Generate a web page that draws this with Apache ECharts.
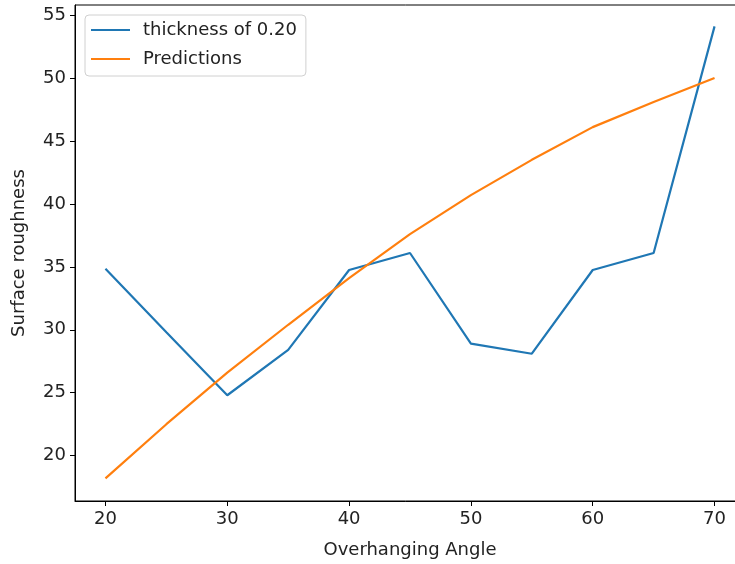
<!DOCTYPE html>
<html>
<head>
<meta charset="utf-8">
<script src="https://cdn.jsdelivr.net/npm/echarts@6/dist/echarts.min.js"></script>
<style>
  html, body { margin: 0; padding: 0; background: #fff; }
  #main { width: 735px; height: 564px; }
</style>
</head>
<body>
<div id="main"></div>
<script>
// 数据
var angles = [20, 25, 30, 35, 40, 45, 50, 55, 60, 65, 70];
var thickness = [34.85, 29.8, 24.8, 28.4, 34.75, 36.1, 28.9, 28.1, 34.75, 36.1, 54.1];
var predictions = [18.2, 22.5, 26.6, 30.4, 34.1, 37.6, 40.7, 43.5, 46.1, 48.1, 50.0];
var xTicks = [20, 30, 40, 50, 60, 70];
var yTicks = [20, 25, 30, 35, 40, 45, 50, 55];

function pairs(ys) {
  return angles.map(function (a, i) { return [a, ys[i]]; });
}

var font = 'DejaVu Sans';
var myChart = echarts.init(document.getElementById('main'));

var option = {
  animation: false,
  backgroundColor: '#fff',
  grid: {
    left: 75, top: 5, width: 670, bottom: 63,
    outerBoundsMode: 'none',
    show: true, borderColor: '#000', borderWidth: 1
  },
  legend: {
    orient: 'vertical',
    left: 85, top: 15,
    padding: [5, 9, 7, 6],
    borderColor: '#d0d0d0', borderWidth: 1, borderRadius: 4,
    backgroundColor: '#fff',
    itemWidth: 39, itemHeight: 2, itemGap: 9,
    icon: 'rect',
    textStyle: { fontFamily: font, fontSize: 18, lineHeight: 20, color: '#222', padding: [0, 0, 0, 8] },
    data: ['thickness of 0.20', 'Predictions']
  },
  xAxis: {
    type: 'value', min: 17.5, max: 72.5,
    name: 'Overhanging Angle', nameLocation: 'middle', nameGap: 40,
    nameTextStyle: { fontFamily: font, fontSize: 18, color: '#222' },
    axisLine: { lineStyle: { color: '#000' } },
    axisTick: { show: true, length: 5, customValues: xTicks, lineStyle: { color: '#000' } },
    axisLabel: { customValues: xTicks, fontFamily: font, fontSize: 18, color: '#222', margin: 9 },
    splitLine: { show: false }
  },
  yAxis: {
    type: 'value', min: 16.4, max: 55.8,
    name: 'Surface roughness', nameLocation: 'middle', nameGap: 47,
    nameTextStyle: { fontFamily: font, fontSize: 18, color: '#222' },
    axisLine: { show: true, lineStyle: { color: '#000' } },
    axisTick: { show: true, length: 5, customValues: yTicks, lineStyle: { color: '#000' } },
    axisLabel: { customValues: yTicks, fontFamily: font, fontSize: 18, color: '#222', margin: 9 },
    splitLine: { show: false }
  },
  series: [
    {
      name: 'thickness of 0.20', type: 'line', data: pairs(thickness),
      showSymbol: false, color: '#1f77b4', lineStyle: { width: 2.2 }
    },
    {
      name: 'Predictions', type: 'line', data: pairs(predictions),
      showSymbol: false, color: '#ff7f0e', lineStyle: { width: 2.2 }
    }
  ]
};

myChart.setOption(option);
</script>
</body>
</html>
